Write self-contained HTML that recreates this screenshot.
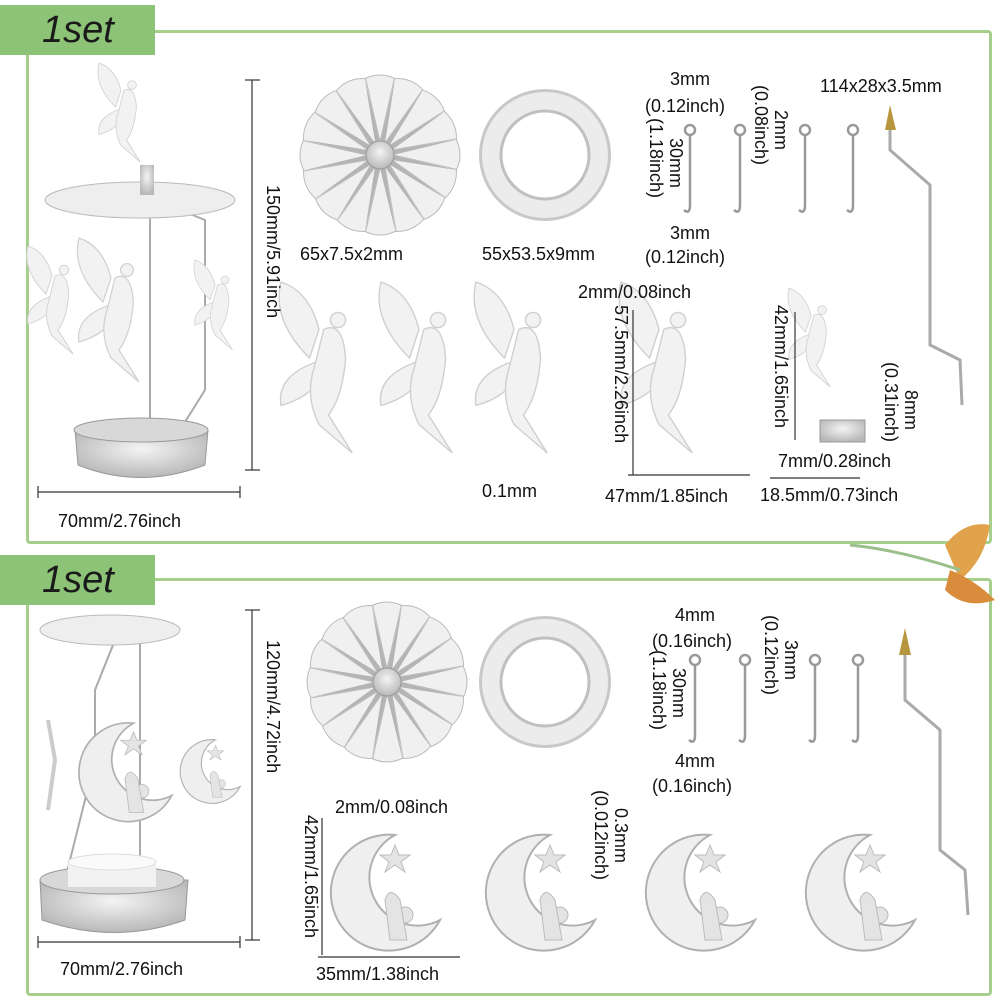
<!DOCTYPE html>
<html><head><meta charset="utf-8">
<style>
body{margin:0;width:1000px;height:1000px;background:#fff;position:relative;overflow:hidden;font-family:"Liberation Sans",sans-serif;color:#111}
.t{position:absolute;font-size:18px;white-space:nowrap;line-height:1}
.v{position:absolute;font-size:18px;white-space:nowrap;line-height:1;transform-origin:0 0;transform:rotate(90deg)}
.frame{position:absolute;border:3px solid #a6cf8e;border-radius:4px}
.tab{position:absolute;background:#8cc377;color:#1a1a1a;font-style:italic;font-size:38px;padding-left:42px;box-sizing:border-box;line-height:50px}
svg{position:absolute;left:0;top:0}
</style></head><body>
<div class="frame" style="left:26px;top:30px;width:960px;height:508px"></div>
<div class="frame" style="left:26px;top:578px;width:960px;height:412px"></div>
<div class="tab" style="left:0;top:5px;width:155px;height:50px">1set</div>
<div class="tab" style="left:0;top:555px;width:155px;height:50px">1set</div>

<svg width="1000" height="1000">
<defs>
<radialGradient id="m" cx="50%" cy="40%" r="60%"><stop offset="0" stop-color="#f4f4f4"/><stop offset="1" stop-color="#b8b8b8"/></radialGradient>
<path id="pl" d="M-5,-12 L-16,-76 Q0,-84 16,-76 L5,-12Z" fill="#f0f0f0" stroke="#bbb"/>
<path id="pd" d="M0,-12 L15,-76 L5,-12Z" fill="#b4b4b4"/>
<g id="L"><use href="#pl"/><use href="#pl" transform="rotate(22.5)"/><use href="#pl" transform="rotate(45)"/><use href="#pl" transform="rotate(67.5)"/><use href="#pl" transform="rotate(90)"/><use href="#pl" transform="rotate(112.5)"/><use href="#pl" transform="rotate(135)"/><use href="#pl" transform="rotate(157.5)"/></g>
<g id="D"><use href="#pd"/><use href="#pd" transform="rotate(22.5)"/><use href="#pd" transform="rotate(45)"/><use href="#pd" transform="rotate(67.5)"/><use href="#pd" transform="rotate(90)"/><use href="#pd" transform="rotate(112.5)"/><use href="#pd" transform="rotate(135)"/><use href="#pd" transform="rotate(157.5)"/></g>
<g id="flower">
<use href="#L"/><use href="#L" transform="rotate(180)"/><use href="#D"/><use href="#D" transform="rotate(180)"/>
<circle r="14" fill="url(#m)" stroke="#999"/>
</g>
<g id="ring"><circle r="66" fill="#c8c8c8"/><circle r="63" fill="#ececec"/><circle r="44" fill="#fff" stroke="#c0c0c0" stroke-width="3"/></g>
<g id="fairy" fill="#f2f2f2" stroke="#d0d0d0" stroke-width="1.5">
<path d="M10,40 Q-30,0 -20,-40 Q10,-30 20,10Z"/>
<path d="M15,45 Q-25,60 -20,90 Q15,80 25,55Z"/>
<path d="M25,10 Q45,0 48,40 Q45,80 30,100 L55,140 L20,110 Q5,80 15,50Z"/>
<circle cx="40" cy="0" r="8"/>
</g>
<g id="moon"><path d="M10,-55 A58,58 0 1 0 55,30 A45,45 0 1 1 10,-55Z" fill="#efefef" stroke="#b0b0b0" stroke-width="2"/><circle cx="20" cy="25" r="8" fill="#e4e4e4" stroke="#bbb"/><path d="M0,10 Q5,-5 15,10 L22,50 L5,50Z" fill="#e4e4e4" stroke="#bbb"/><polygon points="10,-45 14,-35 25,-35 16,-28 20,-18 10,-25 0,-18 4,-28 -5,-35 6,-35" fill="#e4e4e4" stroke="#bbb"/></g>
<g id="hook" fill="none" stroke="#999" stroke-width="2.5"><circle cx="0" cy="0" r="5"/><path d="M0,5 L0,75 Q0,85 -6,80"/></g>
</defs>

<g stroke="#aaa" fill="none" stroke-width="2">
<line x1="150" y1="190" x2="150" y2="430"/><path d="M180 210 L205 220 L205 390 L180 430"/>
</g>
<ellipse cx="140" cy="200" rx="95" ry="18" fill="#eee" stroke="#bbb"/>
<rect x="140" y="165" width="14" height="30" fill="url(#m)"/>
<use href="#fairy" transform="translate(110,85) scale(0.55)"/>
<use href="#fairy" transform="translate(40,270) scale(0.6)"/>
<use href="#fairy" transform="translate(95,270) scale(0.8)"/>
<use href="#fairy" transform="translate(205,280) scale(0.5)"/>
<path d="M75 430 L78 465 Q140 490 205 465 L208 430Z" fill="url(#m)" stroke="#999"/>
<ellipse cx="141" cy="430" rx="67" ry="12" fill="#d8d8d8" stroke="#999"/>
<use href="#flower" transform="translate(380,155)"/>
<use href="#ring" transform="translate(545,155)"/>
<use href="#hook" transform="translate(690,130)"/><use href="#hook" transform="translate(740,130)"/><use href="#hook" transform="translate(805,130)"/><use href="#hook" transform="translate(853,130)"/>
<path d="M890 125 L890 150 L930 185 L930 345 L960 360 L962 405" fill="none" stroke="#aaa" stroke-width="3"/>
<path d="M885 130 L890 105 L896 130Z" fill="#b8963e"/>
<use href="#fairy" transform="translate(300,320) scale(0.95)"/>
<use href="#fairy" transform="translate(400,320) scale(0.95)"/>
<use href="#fairy" transform="translate(495,320) scale(0.95)"/>
<use href="#fairy" transform="translate(640,320) scale(0.95)"/>
<use href="#fairy" transform="translate(800,310) scale(0.55)"/>
<rect x="820" y="420" width="45" height="22" fill="url(#m)" stroke="#999"/>
<g stroke="#333" stroke-width="1.2">
<line x1="252" y1="80" x2="252" y2="470"/><line x1="245" y1="80" x2="260" y2="80"/><line x1="245" y1="470" x2="260" y2="470"/>
<line x1="38" y1="492" x2="240" y2="492"/><line x1="38" y1="486" x2="38" y2="498"/><line x1="240" y1="486" x2="240" y2="498"/>
<line x1="633" y1="310" x2="633" y2="475"/><line x1="628" y1="475" x2="750" y2="475"/>
<line x1="795" y1="312" x2="795" y2="440"/><line x1="770" y1="478" x2="860" y2="478"/>
</g>

<g stroke="#aaa" fill="none" stroke-width="2"><path d="M115 640 L95 690 L95 760 L65 880"/><line x1="140" y1="640" x2="140" y2="860"/></g>
<ellipse cx="110" cy="630" rx="70" ry="15" fill="#eee" stroke="#bbb"/>
<path d="M48 720 L55 760 L48 810" stroke="#ccc" fill="none" stroke-width="4"/>
<use href="#moon" transform="translate(125,770) scale(0.85)"/>
<use href="#moon" transform="translate(210,770) scale(0.55)"/>
<path d="M40 880 L42 920 Q115 945 185 920 L188 880Z" fill="url(#m)" stroke="#999"/>
<ellipse cx="112" cy="880" rx="72" ry="14" fill="#d8d8d8" stroke="#999"/>
<rect x="68" y="862" width="88" height="25" fill="#f2f2f2"/><ellipse cx="112" cy="862" rx="44" ry="8" fill="#fafafa" stroke="#ddd"/>
<use href="#flower" transform="translate(387,682)"/>
<use href="#ring" transform="translate(545,682)"/>
<use href="#hook" transform="translate(695,660)"/><use href="#hook" transform="translate(745,660)"/><use href="#hook" transform="translate(815,660)"/><use href="#hook" transform="translate(858,660)"/>
<path d="M905 650 L905 700 L940 730 L940 850 L965 870 L968 915" fill="none" stroke="#aaa" stroke-width="3"/>
<path d="M899 655 L905 628 L911 655Z" fill="#b8963e"/>
<use href="#moon" transform="translate(385,890)"/>
<use href="#moon" transform="translate(540,890)"/>
<use href="#moon" transform="translate(700,890)"/>
<use href="#moon" transform="translate(860,890)"/>
<g stroke="#333" stroke-width="1.2">
<line x1="252" y1="610" x2="252" y2="940"/><line x1="245" y1="610" x2="260" y2="610"/><line x1="245" y1="940" x2="260" y2="940"/>
<line x1="38" y1="942" x2="240" y2="942"/><line x1="38" y1="936" x2="38" y2="948"/><line x1="240" y1="936" x2="240" y2="948"/>
<line x1="322" y1="818" x2="322" y2="955"/><line x1="318" y1="957" x2="460" y2="957"/>
</g>
<path d="M945 545 Q965 520 990 525 Q985 560 960 580 Z" fill="#e0a24a"/><path d="M950 570 Q975 580 995 600 Q965 610 945 590Z" fill="#d98c3c"/>
<path d="M850 545 Q900 550 960 570" stroke="#9bbf8a" stroke-width="3" fill="none"/>
</svg>

<div class="t" style="left:58px;top:512px">70mm/2.76inch</div>
<div class="v" style="left:282px;top:185px">150mm/5.91inch</div>
<div class="t" style="left:300px;top:245px">65x7.5x2mm</div>
<div class="t" style="left:482px;top:245px">55x53.5x9mm</div>
<div class="t" style="left:670px;top:70px">3mm</div>
<div class="t" style="left:645px;top:97px">(0.12inch)</div>
<div class="v" style="left:665px;top:118px">(1.18inch)</div>
<div class="v" style="left:685px;top:138px">30mm</div>
<div class="t" style="left:670px;top:224px">3mm</div>
<div class="t" style="left:645px;top:248px">(0.12inch)</div>
<div class="v" style="left:790px;top:110px">2mm</div>
<div class="v" style="left:770px;top:85px">(0.08inch)</div>
<div class="t" style="left:820px;top:77px">114x28x3.5mm</div>
<div class="t" style="left:578px;top:283px">2mm/0.08inch</div>
<div class="v" style="left:630px;top:305px">57.5mm/2.26inch</div>
<div class="t" style="left:482px;top:482px">0.1mm</div>
<div class="t" style="left:605px;top:487px">47mm/1.85inch</div>
<div class="v" style="left:790px;top:305px">42mm/1.65inch</div>
<div class="v" style="left:920px;top:390px">8mm</div>
<div class="v" style="left:900px;top:362px">(0.31inch)</div>
<div class="t" style="left:778px;top:452px">7mm/0.28inch</div>
<div class="t" style="left:760px;top:486px">18.5mm/0.73inch</div>

<div class="t" style="left:60px;top:960px">70mm/2.76inch</div>
<div class="v" style="left:282px;top:640px">120mm/4.72inch</div>
<div class="t" style="left:675px;top:606px">4mm</div>
<div class="t" style="left:652px;top:632px">(0.16inch)</div>
<div class="v" style="left:668px;top:650px">(1.18inch)</div>
<div class="v" style="left:688px;top:668px">30mm</div>
<div class="t" style="left:675px;top:752px">4mm</div>
<div class="t" style="left:652px;top:777px">(0.16inch)</div>
<div class="v" style="left:800px;top:640px">3mm</div>
<div class="v" style="left:780px;top:615px">(0.12inch)</div>
<div class="t" style="left:335px;top:798px">2mm/0.08inch</div>
<div class="v" style="left:320px;top:815px">42mm/1.65inch</div>
<div class="t" style="left:316px;top:965px">35mm/1.38inch</div>
<div class="v" style="left:630px;top:808px">0.3mm</div>
<div class="v" style="left:610px;top:790px">(0.012inch)</div>
</body></html>
